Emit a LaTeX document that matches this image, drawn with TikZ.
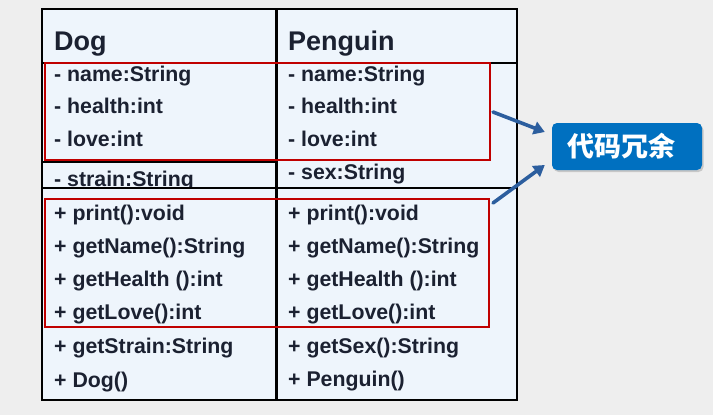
\documentclass[tikz,border=0pt]{standalone}
\usepackage{fontspec}
\setmainfont{Liberation Sans}
\newfontfamily\cjk{Noto Sans CJK SC}
\usetikzlibrary{arrows.meta,shadows}

\definecolor{backgray}{HTML}{EEEEEE}
\definecolor{tablefill}{HTML}{EEF5FC}
\definecolor{ink}{HTML}{1B2131}
\definecolor{redline}{HTML}{C00000}
\definecolor{arrowblue}{HTML}{2C5E9E}
\definecolor{calloutblue}{HTML}{0070C0}

\begin{document}
\begin{tikzpicture}[
    x=1pt,
    y=-1pt,
    line join=miter,
    frame/.style={line width=1.6pt,draw=black,fill=tablefill},
    redbox/.style={line width=2.8pt,draw=redline},
    title/.style={anchor=base west,inner sep=0pt,text=ink,
        font=\fontsize{27}{30}\selectfont\bfseries},
    member/.style={anchor=base west,inner sep=0pt,text=ink,
        font=\fontsize{21.3}{24}\selectfont\bfseries},
    callout/.style={fill=calloutblue,text=white,rounded corners=5pt,
        minimum width=150pt,minimum height=47pt,inner sep=0pt,
        drop shadow={shadow xshift=1.5pt,shadow yshift=-2pt,opacity=0.35},
        font=\fontsize{27}{29}\selectfont\cjk\bfseries},
    pointer/.style={line width=3.6pt,draw=arrowblue,line cap=round,
        -{Triangle[length=11pt,width=13pt]}}
]

% -------------------------------------------------
% Background
% -------------------------------------------------

\useasboundingbox (0,0) rectangle (713,415);
\fill[backgray] (0,0) rectangle (713,415);

% -------------------------------------------------
% Class Dog
% -------------------------------------------------

\draw[frame] (42,9) rectangle (276,400);
\draw[frame] (42,63) rectangle (276,162);

\node[title]  (dogTitle)  at (54,50)  {Dog};
\node[member] (dogName)   at (54,81)  {- name:String};
\node[member] (dogHealth) at (54,113) {- health:int};
\node[member] (dogLove)   at (54,146) {- love:int};
\node[member] (dogStrain) at (54,186) {- strain:String};

% methods part covers the bottom of the last field
\draw[frame] (42,188) rectangle (276,400);

\node[member] (dogPrint)  at (54,220) {+ print():void};
\node[member] (dogGetN)   at (54,253) {+ getName():String};
\node[member] (dogGetH)   at (54,286) {+ getHealth ():int};
\node[member] (dogGetL)   at (54,319) {+ getLove():int};
\node[member] (dogGetS)   at (54,353) {+ getStrain:String};
\node[member] (dogNew)    at (54,387) {+ Dog()};

% -------------------------------------------------
% Class Penguin
% -------------------------------------------------

\draw[frame] (277,9) rectangle (517,400);
\draw[line width=1.6pt] (277,63)--(517,63);
\draw[line width=1.6pt] (277,188)--(517,188);

\node[title]  (pngTitle)  at (288,50)  {Penguin};
\node[member] (pngName)   at (288,81)  {- name:String};
\node[member] (pngHealth) at (288,113) {- health:int};
\node[member] (pngLove)   at (288,146) {- love:int};
\node[member] (pngSex)    at (288,179) {- sex:String};

\node[member] (pngPrint)  at (288,220) {+ print():void};
\node[member] (pngGetN)   at (288,253) {+ getName():String};
\node[member] (pngGetH)   at (288,286) {+ getHealth ():int};
\node[member] (pngGetL)   at (288,319) {+ getLove():int};
\node[member] (pngGetS)   at (288,353) {+ getSex():String};
\node[member] (pngNew)    at (288,386) {+ Penguin()};

% -------------------------------------------------
% Repeated parts
% -------------------------------------------------

\draw[redbox] (45,63)  rectangle (490,160);
\draw[redbox] (45,199) rectangle (489,327);

% -------------------------------------------------
% Callout
% -------------------------------------------------

\node[callout,text width=120pt,align=left] (redund) at (627,146.5) {代码冗余};

\coordinate (tailA) at (493,112);
\coordinate (tailB) at (493,203);

\draw[pointer] (tailA) -- ([xshift=-7pt,yshift=14.5pt]redund.west);
\draw[pointer] (tailB) -- ([xshift=-7pt,yshift=-18.5pt]redund.west);

\end{tikzpicture}
\end{document}
